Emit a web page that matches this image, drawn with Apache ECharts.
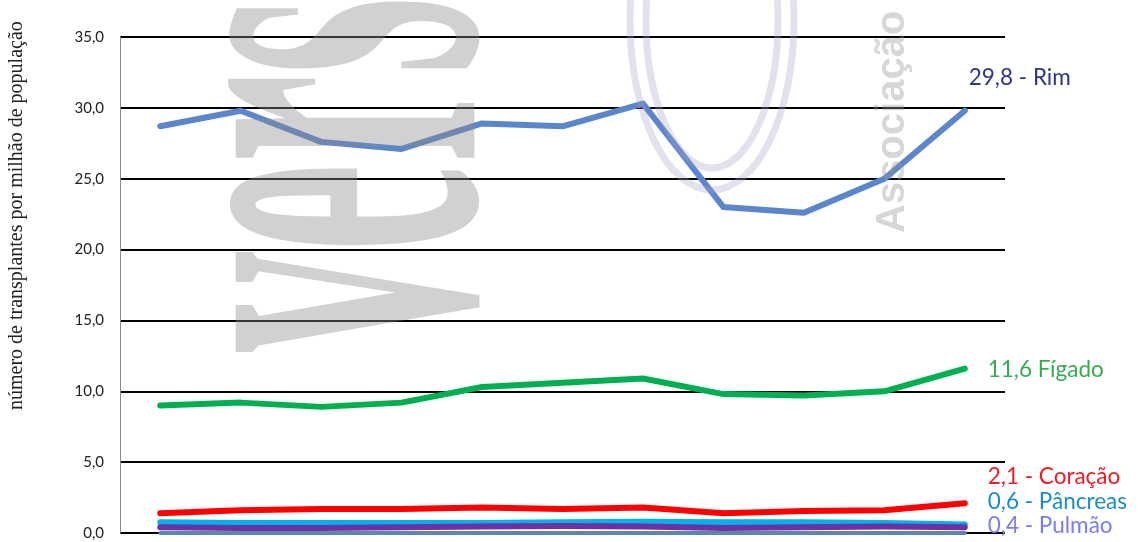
<!DOCTYPE html>
<html>
<head>
<meta charset="utf-8">
<script src="https://cdn.jsdelivr.net/npm/echarts@6/dist/echarts.min.js"></script>
<style>html,body{margin:0;padding:0;background:#fff;}#c{width:1139px;height:542px;}</style>
</head>
<body>
<div id="c"></div>
<script>
var years = ['2005','2006','2007','2008','2009','2010','2011','2012','2013','2014','2015'];
var rim = [28.7, 29.8, 27.6, 27.1, 28.9, 28.7, 30.3, 23.0, 22.6, 25.0, 29.8];
var figado = [9.0, 9.2, 8.9, 9.2, 10.3, 10.6, 10.9, 9.8, 9.7, 10.0, 11.6];
var coracao = [1.4, 1.6, 1.7, 1.7, 1.8, 1.7, 1.8, 1.4, 1.55, 1.6, 2.1];
var pancreas = [0.75, 0.7, 0.7, 0.7, 0.7, 0.75, 0.8, 0.75, 0.75, 0.7, 0.6];
var pulmao = [0.4, 0.35, 0.35, 0.4, 0.45, 0.5, 0.45, 0.35, 0.4, 0.45, 0.4];
var intestino = [0, 0, 0, 0, 0, 0, 0, 0, 0, 0, 0];
var yTicks = [0, 5, 10, 15, 20, 25, 30, 35];
var yTitle = 'número de transplantes por milhão de população';

function fmt(v){ return v.toFixed(1).replace('.', ','); }

function mk(name, data, color, width, z, endText, endColor, offset){
  var s = {name: name, type: 'line', data: data, symbol: 'none', z: z,
    lineStyle: {color: color, width: width, cap: 'round', join: 'round'},
    itemStyle: {color: color}, animation: false};
  if (endText) {
    s.endLabel = {show: true, formatter: endText, color: endColor, fontFamily: 'Lato',
      fontSize: 22.5, distance: 5, offset: offset};
  }
  return s;
}

var chart = echarts.init(document.getElementById('c'));
chart.setOption({
  animation: false,
  grid: {left: 120, right: 134, top: 37, bottom: 9, containLabel: false},
  xAxis: {type: 'category', data: years, boundaryGap: true,
    axisLine: {show: false}, axisTick: {show: false}, axisLabel: {show: false}},
  yAxis: {type: 'value', min: yTicks[0], max: yTicks[yTicks.length-1], interval: 5,
    axisLine: {show: true, lineStyle: {color: '#8a8a8a', width: 1}},
    axisTick: {show: false},
    axisLabel: {formatter: fmt, fontFamily: 'Lato', fontSize: 15, color: '#222', margin: 16},
    splitLine: {lineStyle: {color: '#000', width: 2}}},
  series: [
    mk('Intestino', intestino, '#5b87b0', 4, 2),
    mk('Pâncreas', pancreas, '#00b0f0', 6, 3, '0,6 - Pâncreas', '#1b8cc4', [18, -23]),
    mk('Pulmão', pulmao, '#7030a0', 6, 4, '0,4 - Pulmão', '#7b7bf7', [18, -2]),
    mk('Coração', coracao, '#ff0000', 6, 5, '2,1 - Coração', '#ee1c25', [18, -26]),
    mk('Fígado', figado, '#00b050', 6, 6, '11,6 Fígado', '#3aaa52', [18, 1]),
    mk('Rim', rim, '#5b86cc', 6, 7, '29,8 - Rim', '#2e3586', [-1, -33])
  ],
  graphic: [
    {type: 'text', silent: true, x: 17, y: 410, rotation: Math.PI/2,
      style: {text: yTitle, font: '20px "Liberation Serif"', fill: '#222',
        align: 'left', verticalAlign: 'middle'}},
    {type: 'text', z: 100, silent: true, x: 600, y: 352, rotation: Math.PI/2, scaleX: 1.0, scaleY: 2.6,
      style: {text: 'vers', font: 'bold 200px "Liberation Serif"', fill: 'rgba(140,140,140,0.40)',
        align: 'left', verticalAlign: 'bottom'}},
    {type: 'text', z: 100, silent: true, x: 893, y: 233, rotation: Math.PI/2,
      style: {text: 'Associação', font: 'bold 40px "Liberation Sans"', fill: 'rgba(150,150,150,0.38)',
        align: 'left', verticalAlign: 'middle'}},
    {type: 'ellipse', z: 100, silent: true, shape: {cx: 712, cy: 20, rx: 82, ry: 170},
      style: {fill: 'none', stroke: 'rgba(170,160,200,0.32)', lineWidth: 7}},
    {type: 'ellipse', z: 100, silent: true, shape: {cx: 712, cy: 20, rx: 66, ry: 148},
      style: {fill: 'none', stroke: 'rgba(170,160,200,0.32)', lineWidth: 7}}
  ]
});
</script>
</body>
</html>
